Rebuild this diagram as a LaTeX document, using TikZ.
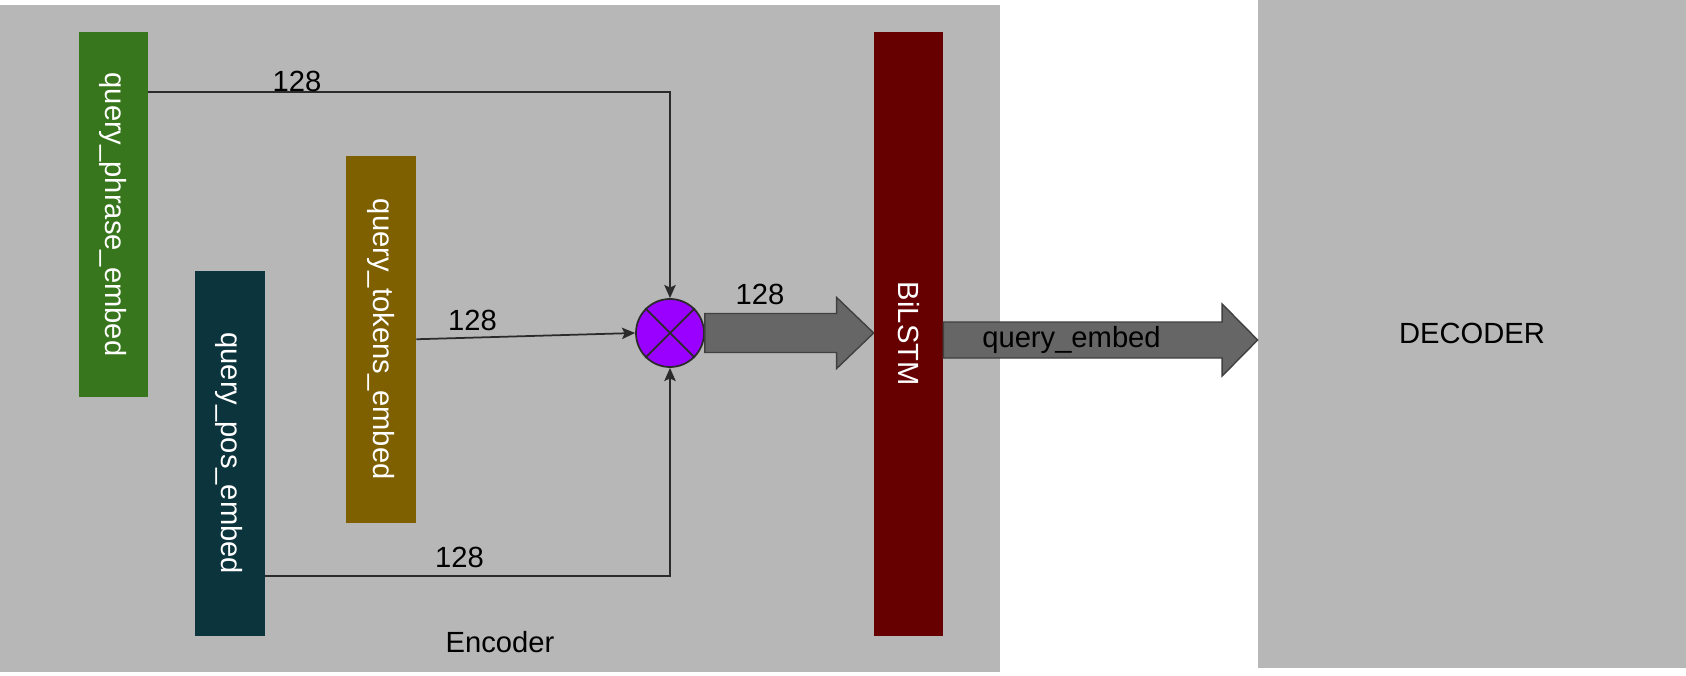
\documentclass[tikz,border=0pt]{standalone}
\usepackage{fontspec}
\setmainfont{Liberation Sans}
\usetikzlibrary{arrows.meta,calc}
\definecolor{encgray}{HTML}{B7B7B7}
\definecolor{phrasegreen}{HTML}{38761D}
\definecolor{posteal}{HTML}{0C343D}
\definecolor{tokenbrown}{HTML}{7F6000}
\definecolor{lstmred}{HTML}{660000}
\definecolor{mulpurple}{HTML}{9900FF}
\definecolor{fatgray}{HTML}{666666}
\definecolor{inkgray}{HTML}{2B2B2B}
\tikzset{
  embbox/.style={minimum width=1.38cm, minimum height=7.3cm, inner sep=0pt, text=white},
  conn/.style={draw=inkgray, line width=1pt, -{Stealth[length=7.5pt,width=6.5pt,inset=1.5pt]}},
  fatarrow/.style={fill=fatgray, draw=inkgray!90, line width=0.8pt, line join=miter}
}

\begin{document}
\begin{tikzpicture}[font=\fontsize{16.6}{20}\selectfont]
    \useasboundingbox (0,0) rectangle (33.72,13.5);
    \fill [encgray] (0,0.06) rectangle (20,13.4);
    \node [fill=encgray, minimum width=8.56cm, minimum height=13.35cm, inner sep=0pt] (dec) at (29.44,6.825) {DECODER};
    \node [embbox, fill=phrasegreen] (phrase) at (2.26,9.21) {\rotatebox{-90}{query\_phrase\_embed}};
    \node [embbox, fill=posteal, minimum width=1.4cm, minimum height=7.29cm] (pos) at (4.59,4.435) {\rotatebox{-90}{query\_pos\_embed}};
    \node [embbox, fill=tokenbrown, minimum width=1.4cm, minimum height=7.33cm] (tok) at (7.62,6.715) {\rotatebox{-90}{query\_tokens\_embed}};
    \node [embbox, fill=lstmred, minimum height=12.07cm] (lstm) at (18.17,6.825) {\rotatebox{-90}{BiLSTM}};
    \node [circle, draw=inkgray, line width=1pt, fill=mulpurple, minimum size=1.36cm, inner sep=0pt] (mul) at (13.4,6.84) {};
    \draw [inkgray, line width=1pt] (mul.north west) -- (mul.south east) (mul.north east) -- (mul.south west);
    % inputs into the product
    \coordinate (phout) at ($(phrase.north east)+(0,-1.21)$);
    \coordinate (posout) at ($(pos.south east)+(0,1.19)$);
    \draw [conn] (phout) -| (mul.north);
    \draw [conn] (tok.east) -- (mul.west);
    \draw [conn] (posout) -| (mul.south);
    \node (n1) at (5.94,11.87) {128};
    \node (n2) at (9.45,7.09) {128};
    \node (n3) at (9.19,2.36) {128};
    % block arrows
    \coordinate (t1) at (lstm.west |- mul.east);
    \draw [fatarrow] ($(mul.east)+(0,0.39)$) -- ($(t1)+(-0.74,0.39)$) -- ($(t1)+(-0.74,0.71)$) -- (t1)
      -- ($(t1)+(-0.74,-0.71)$) -- ($(t1)+(-0.74,-0.39)$) -- ($(mul.east)+(0,-0.39)$) -- cycle;
    \node (n4) at (15.2,7.61) {128};
    \coordinate (s2) at ($(lstm.east)+(0,-0.125)$);
    \coordinate (t2) at (dec.west |- s2);
    \draw [fatarrow] ($(s2)+(0,0.36)$) -- ($(t2)+(-0.71,0.36)$) -- ($(t2)+(-0.71,0.72)$) -- (t2)
      -- ($(t2)+(-0.71,-0.72)$) -- ($(t2)+(-0.71,-0.36)$) -- ($(s2)+(0,-0.36)$) -- cycle;
    \node (emb) at (21.43,6.70) {query\_embed};
    \node (enc) at (10.0,0.66) {Encoder};
  \end{tikzpicture}
\end{document}
